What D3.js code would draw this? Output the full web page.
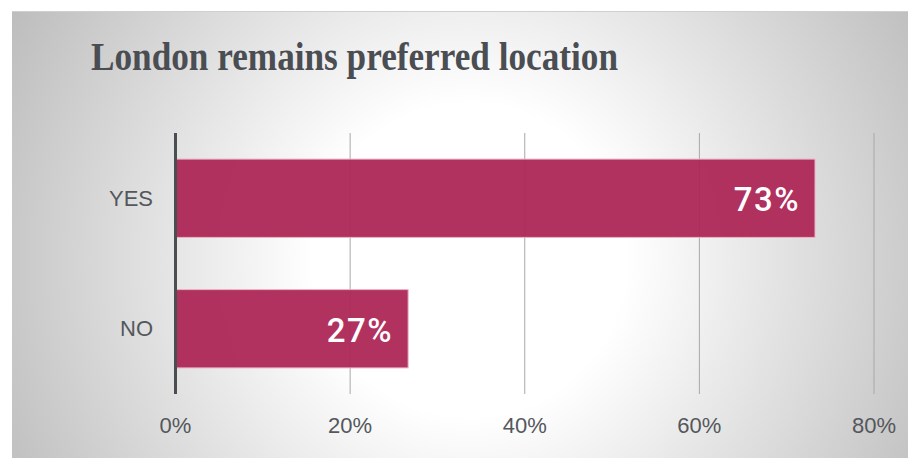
<!DOCTYPE html>
<html><head><meta charset="utf-8">
<script src="https://cdn.jsdelivr.net/npm/d3@7"></script>
<style>html,body{margin:0;padding:0;background:#fff;}svg{display:block;}</style>
</head><body>
<script>
const categories = ["YES", "NO"];
const values = [73.3, 26.7];
const valueLabels = ["73%", "27%"];
const tickValues = [0, 20, 40, 60, 80];
const title = "London remains preferred location";

const W = 908, H = 458;
const svg = d3.select("body").append("svg").attr("width", W).attr("height", H);
const defs = svg.append("defs");
const rg = defs.append("radialGradient").attr("id","bg")
  .attr("gradientUnits","userSpaceOnUse").attr("cx",470).attr("cy",260).attr("r",520);
rg.append("stop").attr("offset","0%").attr("stop-color","#ffffff");
rg.append("stop").attr("offset","30%").attr("stop-color","#ffffff");
rg.append("stop").attr("offset","100%").attr("stop-color","#bdbdbd");

svg.append("rect").attr("x",12).attr("y",11.5).attr("width",W-12).attr("height",H-11.5)
  .attr("fill","url(#bg)");
svg.append("line").attr("x1",12).attr("x2",W).attr("y1",11.5).attr("y2",11.5)
  .attr("stroke","#cfcfcf").attr("stroke-width",1);

svg.append("text").attr("x",91).attr("y",70)
  .attr("font-family","'Liberation Serif','Times New Roman',serif")
  .attr("font-weight","bold").attr("font-size",39).attr("fill","#4a4d52")
  .attr("textLength",527).attr("lengthAdjust","spacingAndGlyphs")
  .text(title);

const x = d3.scaleLinear().domain([0,80]).range([175,873.5]);
const y = d3.scaleBand().domain(categories).range([133,394]).paddingInner(0.4).paddingOuter(0.2);

// gridlines
svg.append("g").selectAll("line").data(tickValues.filter(d=>d>0)).join("line")
  .attr("x1",d=>x(d)+0.5).attr("x2",d=>x(d)+0.5).attr("y1",133).attr("y2",394)
  .attr("stroke","#a8a8a8").attr("stroke-width",1);

// bars
svg.append("g").selectAll("rect").data(categories).join("rect")
  .attr("x",x(0)).attr("y",(d)=>y(d))
  .attr("width",(d,i)=>x(values[i])-x(0)).attr("height",y.bandwidth())
  .attr("fill","#ad2656").attr("fill-opacity",0.95)
  .attr("stroke","#e9b3c3").attr("stroke-width",1);

// value labels
svg.append("g").selectAll("text").data(categories).join("text")
  .attr("x",(d,i)=>x(values[i])-15).attr("y",d=>y(d)+y.bandwidth()/2+13)
  .attr("text-anchor","end").attr("font-family","Roboto,'Liberation Sans',Arial,sans-serif")
  .attr("font-weight","500").attr("font-size",33).attr("letter-spacing","1.5").attr("fill","#ffffff")
  .text((d,i)=>valueLabels[i]);

// y axis
const ya = svg.append("g").attr("transform","translate(175,0)")
  .call(d3.axisLeft(y).tickSize(0).tickPadding(22));
ya.select(".domain").remove();
ya.selectAll("text").attr("font-family","'Liberation Sans',Arial,sans-serif")
  .attr("font-size",22).attr("fill","#54575c").attr("dy","0.35em");
svg.append("line").attr("x1",175.5).attr("x2",175.5).attr("y1",133).attr("y2",394)
  .attr("stroke","#4a4d52").attr("stroke-width",3);

// x axis
const xa = svg.append("g").attr("transform","translate(0,394)")
  .call(d3.axisBottom(x).tickValues(tickValues).tickFormat(d=>d+"%").tickSize(0).tickPadding(39));
xa.select(".domain").remove();
xa.selectAll("text").attr("font-family","'Liberation Sans',Arial,sans-serif")
  .attr("font-size",22).attr("fill","#54575c").attr("dy","0");
</script>
</body></html>
